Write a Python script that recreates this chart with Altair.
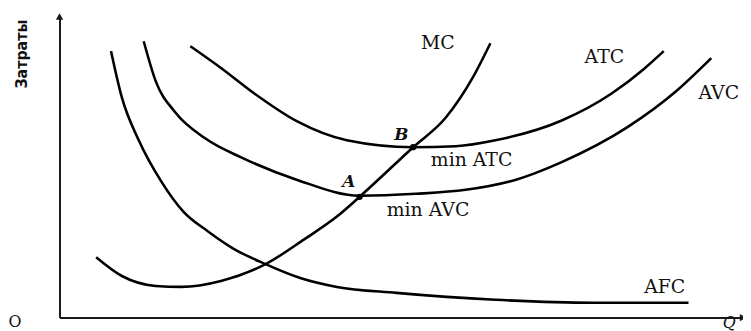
import altair as alt
import pandas as pd

# ---- data (arbitrary units: Q and cost) ----
mc_q = [37, 63, 97, 123, 163, 208, 247, 280, 303, 357, 390, 417, 435]
mc_c = [61, 42, 32, 31, 37, 54, 79, 102, 122, 172, 202, 242, 277]

avc_q = [85, 97, 117, 147, 185, 240, 303, 360, 410, 460, 507, 573, 623, 658]
avc_c = [279, 239, 207, 181, 161, 139, 123, 125, 129, 139, 157, 192, 229, 262]

atc_q = [132, 163, 197, 240, 290, 357, 400, 440, 507, 557, 590, 610]
atc_c = [274, 252, 226, 198, 179, 172, 173, 179, 199, 226, 251, 269]

afc_q = [52, 63, 80, 103, 125, 150, 175, 208, 243, 280, 340, 440, 540, 635]
afc_c = [269, 222, 179, 137, 107, 87, 70, 54, 40, 31, 25, 18, 15, 15]

pt_name = ["A", "B"]
pt_q = [303, 357]
pt_c = [122, 172]

Q_MAX = 690
C_MAX = 304

curve_labels = ["MC", "ATC", "min ATC", "min AVC", "AFC"]
curve_label_q = [382, 550, 416, 372, 611]
curve_label_c = [277, 263, 159, 109, 31]

pt_label_q = [292, 345]
pt_label_c = [137, 184]

# ---- tables ----
rows = []
for name, qs, cs in [("MC", mc_q, mc_c), ("AVC", avc_q, avc_c),
                     ("ATC", atc_q, atc_c), ("AFC", afc_q, afc_c)]:
    for q, c in zip(qs, cs):
        rows.append({"curve": name, "q": q, "c": c})
curves = pd.DataFrame(rows)
points = pd.DataFrame({"name": pt_name, "q": pt_q, "c": pt_c})
labels = pd.DataFrame({"text": curve_labels, "q": curve_label_q, "c": curve_label_c})
plabels = pd.DataFrame({"text": pt_name, "q": pt_label_q, "c": pt_label_c})

xs = alt.Scale(domain=[0, Q_MAX], nice=False, zero=False)
ys = alt.Scale(domain=[0, C_MAX], nice=False, zero=False)
ax = alt.Axis(domain=True, domainColor="#1a1a1a", domainWidth=2, ticks=False,
              labels=False, grid=False, title=None)

base = alt.Chart(curves)

lines = base.mark_line(color="black", strokeWidth=2.6, interpolate="monotone").encode(
    x=alt.X("q:Q", scale=xs, axis=ax),
    y=alt.Y("c:Q", scale=ys, axis=ax),
    detail="curve:N",
    order="q:Q",
)

dots = alt.Chart(points).mark_circle(color="black", size=40, opacity=1).encode(
    x=alt.X("q:Q", scale=xs), y=alt.Y("c:Q", scale=ys)
)

serif = "DejaVu Serif"

txt = alt.Chart(labels).mark_text(font=serif, fontSize=19, color="#111",
                                  align="center", baseline="middle").encode(
    x=alt.X("q:Q", scale=xs), y=alt.Y("c:Q", scale=ys), text="text:N"
)

avc_lab = alt.Chart(pd.DataFrame({"text": ["AVC"], "q": [645], "c": [227]})).mark_text(
    font=serif, fontSize=19, color="#111", align="left", baseline="middle").encode(
    x=alt.X("q:Q", scale=xs), y=alt.Y("c:Q", scale=ys), text="text:N"
)

ptxt = alt.Chart(plabels).mark_text(font=serif, fontSize=17, fontStyle="italic",
                                    fontWeight="bold", color="#111",
                                    align="center", baseline="middle").encode(
    x=alt.X("q:Q", scale=xs), y=alt.Y("c:Q", scale=ys), text="text:N"
)

origin = alt.Chart(pd.DataFrame({"text": ["O"], "q": [-45], "c": [-4]})).mark_text(
    font=serif, fontSize=16, color="#111", align="center", baseline="middle").encode(
    x=alt.X("q:Q", scale=xs), y=alt.Y("c:Q", scale=ys), text="text:N"
)

qlab = alt.Chart(pd.DataFrame({"text": ["Q"], "q": [676], "c": [-5]})).mark_text(
    font=serif, fontSize=16, fontStyle="italic", color="#111",
    align="center", baseline="middle").encode(
    x=alt.X("q:Q", scale=xs), y=alt.Y("c:Q", scale=ys), text="text:N"
)

ylab = alt.Chart(pd.DataFrame({"text": ["Затраты"], "q": [-38], "c": [266]})).mark_text(
    font="Liberation Sans Narrow, DejaVu Sans Condensed, Liberation Sans",
    fontSize=16, fontWeight="bold", angle=270, color="#111",
    align="center", baseline="middle").encode(
    x=alt.X("q:Q", scale=xs), y=alt.Y("c:Q", scale=ys), text="text:N"
)

arrows = alt.Chart(pd.DataFrame({"q": [0, Q_MAX], "c": [C_MAX, 0],
                                 "s": ["triangle-up", "triangle-right"]})).mark_point(
    filled=True, color="#1a1a1a", size=55, opacity=1).encode(
    x=alt.X("q:Q", scale=xs), y=alt.Y("c:Q", scale=ys),
    shape=alt.Shape("s:N", scale=None)
)

chart = alt.layer(lines, dots, txt, avc_lab, ptxt, origin, qlab, ylab, arrows).properties(
    width=Q_MAX, height=C_MAX,
    autosize=alt.AutoSizeParams(type="none"),
    padding={"left": 52, "top": 7, "right": 0, "bottom": 16},
    background="white",
).configure_view(stroke=None)

chart.save("out.html", embed_options={"renderer": "svg", "actions": False})
